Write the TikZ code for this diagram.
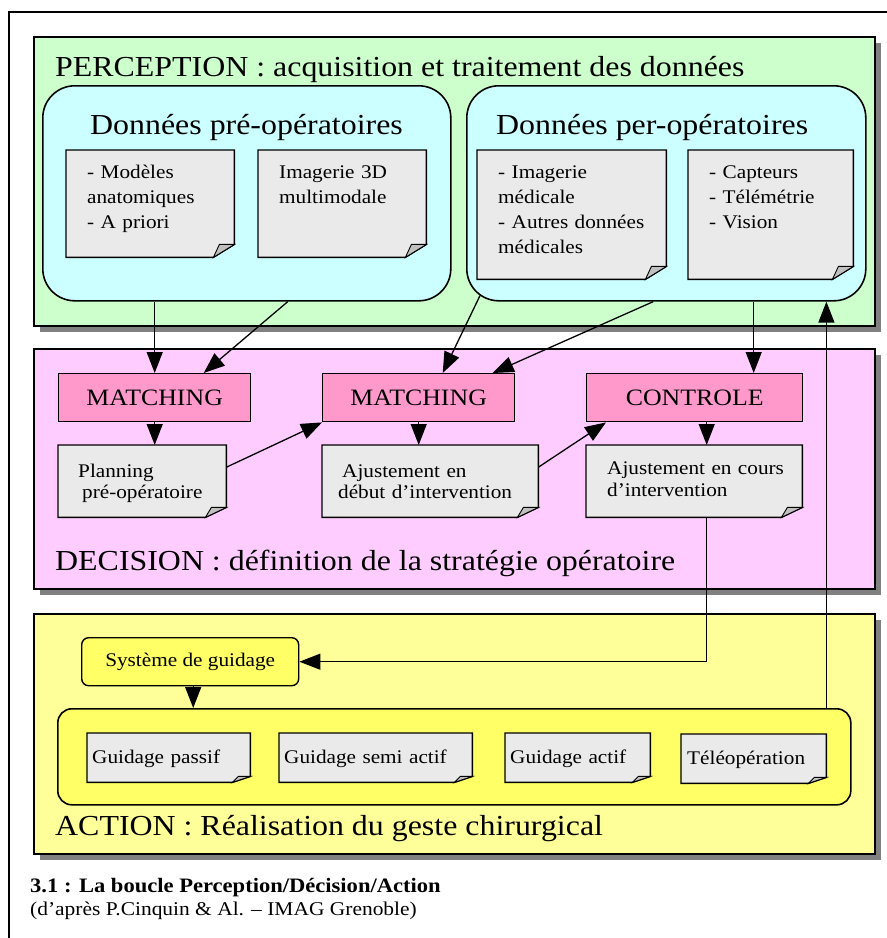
\documentclass[tikz,border=0pt]{standalone}
\usepackage{fontspec}
\setmainfont{Liberation Serif}[FakeStretch=1.1]
\usetikzlibrary{arrows.meta,shadows}

\definecolor{percgreen}{RGB}{204,255,204}
\definecolor{datacyan}{RGB}{204,255,255}
\definecolor{decpink}{RGB}{255,204,255}
\definecolor{matchpink}{RGB}{255,153,204}
\definecolor{actyellow}{RGB}{255,255,153}
\definecolor{guidyellow}{RGB}{255,255,102}
\definecolor{notegray}{RGB}{234,234,234}
\definecolor{foldgray}{RGB}{192,192,192}

\tikzset{panel/.style={draw, line width=1.6pt, anchor=north west, inner sep=0pt,
    drop shadow={shadow xshift=6pt, shadow yshift=-6pt, fill=black!50, opacity=1}}}
\tikzset{databox/.style={draw, line width=1.6pt, fill=datacyan, rounded corners=32pt, anchor=north west, inner sep=0pt}}
\tikzset{stepbox/.style={draw, line width=1.4pt, fill=matchpink, anchor=north west, inner sep=0pt,
    minimum height=48pt, font=\fontsize{23.5}{28}\selectfont}}
\tikzset{note/.style={anchor=north west, inner sep=0pt}}
\tikzset{notetext/.style={anchor=base west, inner sep=0pt, align=left, text width=200pt,
    font=\fontsize{19.3}{25}\selectfont}}
\tikzset{title/.style={anchor=base west, inner sep=0pt, font=\fontsize{29}{34}\selectfont}}
\tikzset{arr/.style={line width=1.3pt, -{Triangle[length=21pt,width=16pt]}}}

\begin{document}
\begin{tikzpicture}[x=1pt, y=-1pt]
    \useasboundingbox (0,0) rectangle (887,938);
    \draw[line width=1.3pt] (9,938) -- (9,12) -- (887,12);

    % the three stages
    \node (perc) [panel, fill=percgreen, minimum width=841pt, minimum height=289pt] at (33,36) {};
    \node (dec) [panel, fill=decpink, minimum width=841pt, minimum height=240pt] at (33,348) {};
    \node (act) [panel, fill=actyellow, minimum width=841pt, minimum height=240pt] at (33,613) {};

    \node (perctitle) [title] at (55,76) {PERCEPTION : acquisition et traitement des données};
    \node (dectitle) [title] at (55,570) {DECISION : définition de la stratégie opératoire};
    \node (acttitle) [title] at (55,835) {ACTION : Réalisation du geste chirurgical};

    % perception
    \node (pre) [databox, minimum width=408pt, minimum height=215pt] at (42,85) {};
    \node (per) [databox, minimum width=399pt, minimum height=215pt] at (466,85) {};
    \node (pretitle) [title] at (90,134) {Données pré-opératoires};
    \node (pertitle) [title] at (496,134) {Données per-opératoires};

    \node (pre1) [note, minimum width=168pt, minimum height=107pt] at (66,150) {};
    \node (pre2) [note, minimum width=168pt, minimum height=107pt] at (258,150) {};
    \node (per1) [note, minimum width=189pt, minimum height=129pt] at (477,150) {};
    \node (per2) [note, minimum width=165pt, minimum height=129pt] at (688,150) {};

    % decision
    \node (m1) [stepbox, minimum width=192pt] at (58,373) {MATCHING};
    \node (m2) [stepbox, minimum width=192pt] at (322,373) {MATCHING};
    \node (ctl) [stepbox, minimum width=216pt] at (586,373) {CONTROLE};

    \node (plan) [note, minimum width=168pt, minimum height=72pt] at (58,445) {};
    \node (deb) [note, minimum width=216pt, minimum height=72pt] at (322,445) {};
    \node (cours) [note, minimum width=216pt, minimum height=72pt] at (586,445) {};

    % action
    \node (sys) [draw, line width=1.4pt, fill=guidyellow, rounded corners=7pt, anchor=north west,
        minimum width=217pt, minimum height=48pt, font=\fontsize{19.3}{23}\selectfont] at (81,637) {Système de guidage};
    \node (guid) [draw, line width=1.6pt, fill=guidyellow, rounded corners=14pt, anchor=north west,
        minimum width=793pt, minimum height=96pt] at (57,708) {};

    \node (gp) [note, minimum width=163pt, minimum height=49pt] at (87,733) {};
    \node (gsa) [note, minimum width=193pt, minimum height=49pt] at (279,733) {};
    \node (ga) [note, minimum width=145pt, minimum height=49pt] at (505,733) {};
    \node (tele) [note, minimum width=145pt, minimum height=49pt] at (681,734) {};

    % folded sheets
    \foreach \n/\fx/\fy in {pre1/21/13, pre2/21/13, per1/21/13, per2/21/13,
        plan/21/10, deb/21/10, cours/21/10, gp/18/6, gsa/18/6, ga/18/6, tele/18/6}
    {
        \draw[line width=1.4pt, fill=notegray]
            (\n.north west) -- (\n.north east) -- ([yshift=\fy pt]\n.south east)
            -- ([xshift=-\fx pt]\n.south east) -- (\n.south west) -- cycle;
        \draw[line width=0.9pt, fill=foldgray]
            ([xshift=-\fx pt]\n.south east) -- ([yshift=\fy pt]\n.south east)
            -- ([xshift=-\fx pt+6pt, yshift=\fy pt]\n.south east) -- cycle;
    }

    \node (pre1t) [notetext] at (87,178) {- Modèles\\anatomiques\\- A priori};
    \node (pre2t) [notetext] at (279,178) {Imagerie 3D\\multimodale};
    \node (per1t) [notetext] at (498,178) {- Imagerie\\médicale\\- Autres données\\médicales};
    \node (per2t) [notetext] at (709,178) {- Capteurs\\- Télémétrie\\- Vision};

    \node (plant) [notetext, font=\fontsize{19.3}{21.5}\selectfont] at (78,477) {Planning\\\hspace*{4pt}pré-opératoire};
    \node (debt) [notetext, font=\fontsize{19.3}{21.5}\selectfont] at (338,477) {\hspace*{4pt}Ajustement en\\début d’intervention};
    \node (courst) [notetext, font=\fontsize{19.3}{22.5}\selectfont] at (607,474) {Ajustement en cours\\d’intervention};

    \node (gpt) [notetext] at (92,763) {Guidage passif};
    \node (gsat) [notetext] at (284,763) {Guidage semi actif};
    \node (gat) [notetext] at (510,763) {Guidage actif};
    \node (telet) [notetext] at (687,764) {Téléopération};

    % perception -> decision
    \draw[arr] (pre.south -| m1.north) -- (m1.north);
    \draw[arr] ([xshift=41pt]pre.south) -- ([xshift=49pt]m1.north);
    \draw[arr] ([xshift=14pt, yshift=6pt]per.south west) -- ([xshift=24pt]m2.north);
    \draw[arr] ([xshift=-13pt]per.south) -- ([xshift=74pt]m2.north);
    \draw[arr] ([xshift=59pt]ctl.north |- per.south) -- ([xshift=59pt]ctl.north);

    % decision
    \draw[arr] (m1.south) -- (m1.south |- plan.north);
    \draw[arr] ([yshift=14pt]plan.east) -- (m2.south west);
    \draw[arr] (m2.south) -- (m2.south |- deb.north);
    \draw[arr] ([yshift=14pt]deb.east) -- ([xshift=20pt]ctl.south west);
    \draw[arr] ([xshift=12pt]ctl.south) -- ([xshift=12pt]ctl.south |- cours.north);

    % decision -> action -> perception
    \draw[arr] ([xshift=12pt]cours.south) |- (sys.east);
    \draw[arr] ([xshift=3pt]sys.south) -- ([xshift=3pt]sys.south |- guid.north);
    \draw[arr] (tele.east |- guid.north) -- (tele.east |- per.south);

    \node (capt) [anchor=base west, inner sep=0pt, font=\fontsize{20.5}{24}\selectfont\bfseries] at (30,892)
        {3.1 : La boucle Perception/Décision/Action};
    \node (src) [anchor=base west, inner sep=0pt, font=\fontsize{19.5}{24}\selectfont] at (30,915)
        {(d’après P.Cinquin \& Al. – IMAG Grenoble)};
\end{tikzpicture}
\end{document}
